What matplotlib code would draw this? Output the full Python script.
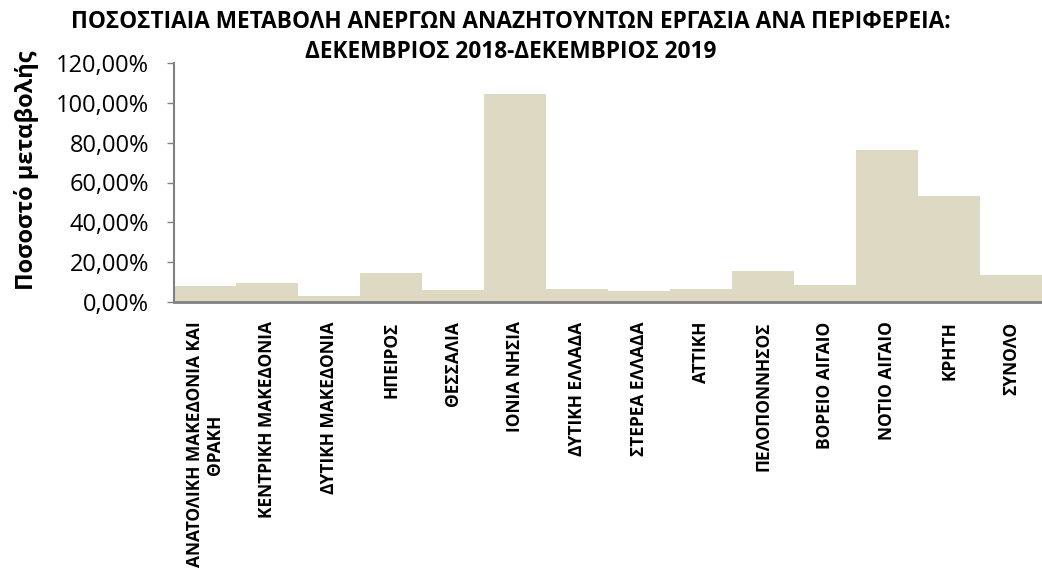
import matplotlib
matplotlib.use("Agg")
import matplotlib.pyplot as plt
from matplotlib.ticker import FuncFormatter

regions = ["ΑΝΑΤΟΛΙΚΗ ΜΑΚΕΔΟΝΙΑ ΚΑΙ\nΘΡΑΚΗ", "ΚΕΝΤΡΙΚΗ ΜΑΚΕΔΟΝΙΑ", "ΔΥΤΙΚΗ ΜΑΚΕΔΟΝΙΑ",
           "ΗΠΕΙΡΟΣ", "ΘΕΣΣΑΛΙΑ", "ΙΟΝΙΑ ΝΗΣΙΑ", "ΔΥΤΙΚΗ ΕΛΛΑΔΑ", "ΣΤΕΡΕΑ ΕΛΛΑΔΑ",
           "ΑΤΤΙΚΗ", "ΠΕΛΟΠΟΝΝΗΣΟΣ", "ΒΟΡΕΙΟ ΑΙΓΑΙΟ", "ΝΟΤΙΟ ΑΙΓΑΙΟ", "ΚΡΗΤΗ", "ΣΥΝΟΛΟ"]
change_pct = [8.0, 9.5, 3.0, 14.6, 6.0, 104.5, 6.5, 5.5, 6.5, 15.6, 8.5, 76.4, 53.3, 13.6]
yticks = [0, 20, 40, 60, 80, 100, 120]

plt.rcParams['font.family'] = ["Open Sans", "DejaVu Sans"]

fig = plt.figure(figsize=(10.42, 5.78), dpi=100)
ax = fig.add_axes([174/1042, 1 - 302/578, (1042-174)/1042, (302-63)/578])

x = list(range(len(regions)))
ax.bar(x, change_pct, width=1.0, color="#DDD9C3", edgecolor="none")
ax.set_xlim(-0.5, len(regions) - 0.5)
ax.set_ylim(0, 120)
ax.set_yticks(yticks)
ax.yaxis.set_major_formatter(FuncFormatter(lambda v, p: f"{v:.2f}%".replace(".", ",")))
ax.tick_params(axis="y", labelsize=17, length=5, color="#808080", width=1, pad=13)
ax.set_xticks(x)
ax.set_xticklabels(regions, rotation=90, fontsize=12.5,
                   fontweight="bold", va="top", ha="center", multialignment="center",
                   linespacing=1.1)
ax.tick_params(axis="x", length=0, pad=14)
for s in ["top", "right"]:
    ax.spines[s].set_visible(False)
ax.spines["left"].set_color("#808080")
ax.spines["bottom"].set_color("#808080")
ax.spines["bottom"].set_linewidth(2)
ax.spines["left"].set_linewidth(1.5)

ax.set_ylabel("Ποσοστό μεταβολής", fontsize=17, fontweight="bold")
ax.yaxis.set_label_coords(-0.156, 0.55)
fig.text(0.49, 1 - 22/578, "ΠΟΣΟΣΤΙΑΙΑ ΜΕΤΑΒΟΛΗ ΑΝΕΡΓΩΝ ΑΝΑΖΗΤΟΥΝΤΩΝ ΕΡΓΑΣΙΑ ΑΝΑ ΠΕΡΙΦΕΡΕΙΑ:",
         ha="center", va="center", fontsize=16.3, fontweight="bold")
fig.text(0.49, 1 - 52/578, "ΔΕΚΕΜΒΡΙΟΣ 2018-ΔΕΚΕΜΒΡΙΟΣ 2019",
         ha="center", va="center", fontsize=16.3, fontweight="bold")

fig.savefig("out.png", dpi=100)
